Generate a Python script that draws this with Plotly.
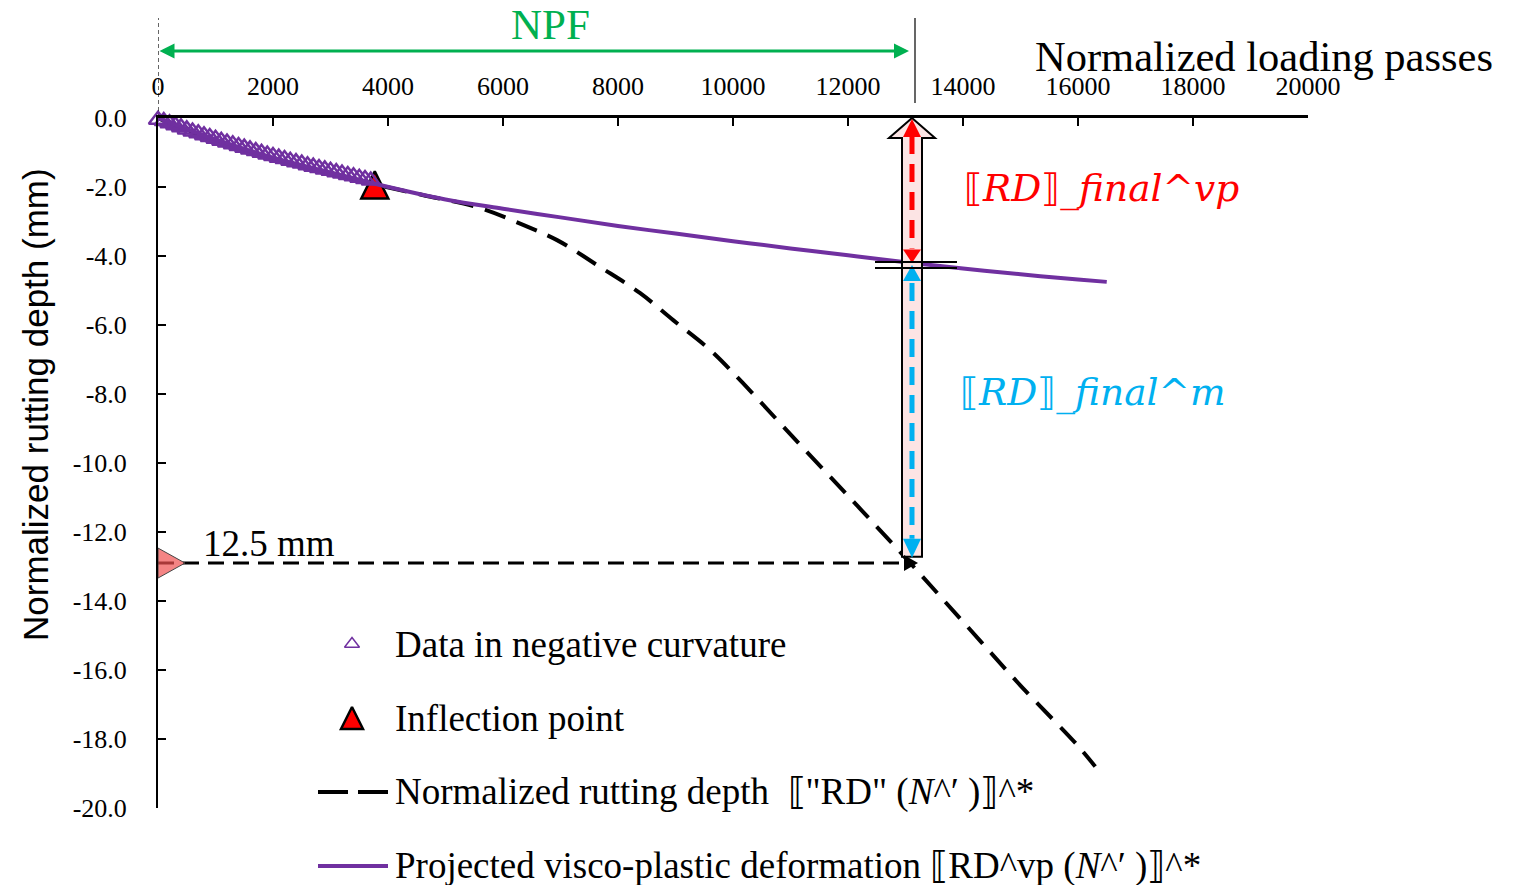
import plotly.graph_objects as go

# ---------------- data ----------------
x_tick_vals = [0, 2000, 4000, 6000, 8000, 10000, 12000, 14000, 16000, 18000, 20000]
x_tick_labels = ["0", "2000", "4000", "6000", "8000", "10000", "12000", "14000", "16000", "18000", "20000"]
y_tick_vals = [0, -2, -4, -6, -8, -10, -12, -14, -16, -18, -20]
y_tick_labels = ["0.0", "-2.0", "-4.0", "-6.0", "-8.0", "-10.0", "-12.0", "-14.0", "-16.0", "-18.0", "-20.0"]

# data in negative curvature (open triangles)
n_data = [0, 100, 200, 300, 400, 500, 600, 700, 800, 900, 1000, 1100, 1200, 1300, 1400,
          1500, 1600, 1700, 1800, 1900, 2000, 2100, 2200, 2300, 2400, 2500, 2600, 2700,
          2800, 2900, 3000, 3100, 3200, 3300, 3400, 3500, 3600, 3700]
rd_data = [-0.05, -0.09, -0.15, -0.21, -0.27, -0.33, -0.39, -0.44, -0.50, -0.55, -0.60,
           -0.66, -0.71, -0.76, -0.81, -0.86, -0.91, -0.96, -1.01, -1.06, -1.10, -1.15,
           -1.19, -1.24, -1.28, -1.32, -1.37, -1.41, -1.45, -1.49, -1.53, -1.57, -1.61,
           -1.65, -1.69, -1.73, -1.77, -1.81]

# inflection point
n_inflection = [3770]
rd_inflection = [-1.94]

# normalized rutting depth curve (dashed)
n_curve = [0, 500, 1000, 1500, 2000, 2500, 3000, 3500, 3860, 4600, 5600, 6350, 6940,
           7690, 8380, 8960, 9600, 10170, 11000, 12000, 13000, 14000, 15000, 16000, 16300]
rd_curve = [0, -0.36, -0.66, -0.94, -1.20, -1.42, -1.63, -1.82, -1.96, -2.23, -2.61, -3.10,
            -3.54, -4.32, -5.07, -5.86, -6.72, -7.68, -9.17, -10.95, -12.75, -14.60, -16.45,
            -18.20, -18.80]

# projected visco-plastic deformation (solid purple)
n_vp = [0, 1000, 2000, 3000, 3860, 5000, 6000, 7000, 8000, 9000, 10000, 11000, 12000,
        13000, 14000, 15000, 16000, 16500]
rd_vp = [0, -0.62, -1.15, -1.58, -1.94, -2.36, -2.63, -2.88, -3.13, -3.35, -3.57, -3.78,
         -3.98, -4.18, -4.36, -4.53, -4.68, -4.75]

# key values
npf = 13113          # number of passes to failure
rd_fail = -12.9      # failure rutting depth level (drawn line)
rd_vp_final = -4.2   # visco-plastic part at failure
rd_block_bottom = -12.72

# ---------------- layout geometry ----------------
BODY = 8                      # default page body margin
W, H = 1522 - BODY, 885 - BODY
ML, MR, MT, MB = 158 - BODY, 214, 118 - BODY, 77
PW, PH = W - ML - MR, H - MT - MB
PLOT_L, PLOT_B = 158, 808     # absolute screen position of plot area
X_RANGE = [0, 20000]
Y_RANGE = [-20, 0]
DX = (X_RANGE[1] - X_RANGE[0]) / PW   # data units per px
DY = (Y_RANGE[1] - Y_RANGE[0]) / PH

PURPLE = "#7030A0"
RED = "#FF0000"
BLUE = "#00B0F0"
GREEN = "#00B050"
SERIF = "Liberation Serif"


def py(px_from_top):
    return (PLOT_B - px_from_top) / PH


def pxp(px_from_left):
    return (px_from_left - PLOT_L) / PW


fig = go.Figure()

fig.add_trace(go.Scatter(x=n_curve, y=rd_curve, mode="lines", line_shape="spline",
                         line=dict(color="black", width=4, dash="22px,12px"),
                         showlegend=False, hoverinfo="skip"))
fig.add_trace(go.Scatter(x=n_inflection, y=rd_inflection, mode="markers", cliponaxis=False,
                         marker=dict(symbol="arrow-down", angle=180, standoff=13.5, size=27,
                                     color=RED, line=dict(color="black", width=2.5)),
                         showlegend=False))
fig.add_trace(go.Scatter(x=n_data, y=rd_data, mode="markers", cliponaxis=False,
                         marker=dict(symbol="triangle-up-open", size=16, color=PURPLE,
                                     line=dict(color=PURPLE, width=2.5)),
                         showlegend=False))
fig.add_trace(go.Scatter(x=n_vp, y=rd_vp, mode="lines", line_shape="spline",
                         line=dict(color=PURPLE, width=4), showlegend=False, hoverinfo="skip"))

# legend symbol markers
leg_x = (352 - PLOT_L) * DX
fig.add_trace(go.Scatter(x=[leg_x], y=[-(644 - 118) * DY], mode="markers", cliponaxis=False,
                         marker=dict(symbol="triangle-up-open", size=13, color=PURPLE,
                                     line=dict(color=PURPLE, width=1.5)), showlegend=False))
fig.add_trace(go.Scatter(x=[leg_x], y=[-(718 - 118) * DY], mode="markers", cliponaxis=False,
                         marker=dict(symbol="arrow-down", angle=180, standoff=11, size=22,
                                     color=RED, line=dict(color="black", width=2.5)),
                         showlegend=False))

shapes = []
# block arrow
hw_head = 23 * DX
hw_shaft = 10 * DX
head_h = 20 * DY
path = (f"M {npf},0 L {npf + hw_head},{-head_h} L {npf + hw_shaft},{-head_h} "
        f"L {npf + hw_shaft},{rd_block_bottom} L {npf - hw_shaft},{rd_block_bottom} "
        f"L {npf - hw_shaft},{-head_h} L {npf - hw_head},{-head_h} Z")
shapes.append(dict(type="path", xref="x", yref="y", path=path,
                   fillcolor="#FCE4E4", line=dict(color="black", width=2)))


def tri(xc, y_tip, y_base, half_w, color):
    p = f"M {xc},{y_tip} L {xc + half_w},{y_base} L {xc - half_w},{y_base} Z"
    return dict(type="path", xref="x", yref="y", path=p, fillcolor=color,
                line=dict(color=color, width=0))


ah_w = 9 * DX
ah_h = 18 * DY
# red double arrow (visco-plastic part)
shapes.append(dict(type="line", xref="x", yref="y", x0=npf, x1=npf,
                   y0=-ah_h, y1=rd_vp_final + ah_h * 0.8,
                   line=dict(color=RED, width=5, dash="18px,10px")))
shapes.append(tri(npf, -1 * DY, -1 * DY - ah_h, ah_w, RED))
shapes.append(tri(npf, rd_vp_final, rd_vp_final + ah_h * 0.75, ah_w, RED))
# blue double arrow (remaining part)
blue_top = rd_vp_final - 2 * DY
shapes.append(dict(type="line", xref="x", yref="y", x0=npf, x1=npf,
                   y0=blue_top - ah_h, y1=rd_block_bottom + ah_h,
                   line=dict(color=BLUE, width=5, dash="18px,10px")))
shapes.append(tri(npf, blue_top, blue_top - ah_h * 0.9, ah_w, BLUE))
shapes.append(tri(npf, rd_block_bottom - 1 * DY, rd_block_bottom + ah_h, ah_w, BLUE))
# '=' marks
for yy in (rd_vp_final + 1 * DY, rd_vp_final - 5 * DY):
    shapes.append(dict(type="line", xref="x", yref="y", x0=npf - 37 * DX, x1=npf + 45 * DX,
                       y0=yy, y1=yy, line=dict(color="black", width=2)))
# horizontal dashed arrow at failure depth
shapes.append(dict(type="line", xref="x", yref="y", x0=0, x1=npf - 8 * DX,
                   y0=rd_fail, y1=rd_fail, line=dict(color="black", width=3, dash="16px,9px")))
shapes.append(dict(type="path", xref="x", yref="y",
                   path=(f"M {npf + 6 * DX},{rd_fail} L {npf - 8 * DX},{rd_fail + 8 * DY} "
                         f"L {npf - 8 * DX},{rd_fail - 8 * DY} Z"),
                   fillcolor="black", line=dict(color="black", width=0)))
# pink marker on the axis
shapes.append(dict(type="path", xref="x", yref="y",
                   path=(f"M 0,{rd_fail + 15 * DY} L {27 * DX},{rd_fail} "
                         f"L 0,{rd_fail - 15 * DY} Z"),
                   fillcolor="rgba(240,80,80,0.7)", line=dict(color="#444", width=1)))
# vertical lines above the plot
shapes.append(dict(type="line", xref="x", yref="paper", x0=0, x1=0, y0=1, y1=py(18),
                   line=dict(color="black", width=1.2, dash="4px,3px")))
shapes.append(dict(type="line", xref="x", yref="paper", x0=npf + 3 * DX, x1=npf + 3 * DX,
                   y0=py(103), y1=py(18), line=dict(color="black", width=1.2)))
# legend line samples
shapes.append(dict(type="line", xref="paper", yref="paper", x0=pxp(318), x1=pxp(388),
                   y0=py(792), y1=py(792), line=dict(color="black", width=4, dash="30px,10px")))
shapes.append(dict(type="line", xref="paper", yref="paper", x0=pxp(318), x1=pxp(388),
                   y0=py(866), y1=py(866), line=dict(color=PURPLE, width=4)))

annotations = []


def label(xp, yp, text, size, color="black", family=SERIF, xanchor="center", **kw):
    annotations.append(dict(xref="paper", yref="paper", x=pxp(xp), y=py(yp), text=text,
                            showarrow=False, xanchor=xanchor, yanchor="middle",
                            font=dict(family=family, size=size, color=color), **kw))


# NPF arrow and label
annotations.append(dict(xref="x", yref="paper", x=npf - 3 * DX, y=py(51), axref="x", ayref="pixel",
                        ax=0, ay=0, showarrow=True, arrowside="end+start", arrowhead=2,
                        arrowsize=1, arrowwidth=3, arrowcolor=GREEN, text=""))
label(550, 25, "NPF", 43, GREEN)
# axis titles
label(1264, 57, "Normalized loading passes", 42.5)
label(35, 405, "Normalized rutting depth (mm)", 35, family="Liberation Sans", textangle=-90)
# 12.5 mm label
label(269, 543, "12.5 mm", 37)
# math labels
label(962, 188, "⟦<i>RD</i>⟧_<i>final</i>^<i>vp</i>", 37.5, RED, family="DejaVu Serif",
      xanchor="left")
label(958, 392, "⟦<i>RD</i>⟧_<i>final</i>^<i>m</i>", 37.5, BLUE, family="DejaVu Serif",
      xanchor="left")
# legend texts
leg_texts = [
    (644, "Data in negative curvature"),
    (718, "Inflection point"),
    (792, "Normalized rutting depth  ⟦\"RD\" (<i>N</i>^′ )⟧^*"),
    (866, "Projected visco-plastic deformation ⟦RD^vp (<i>N</i>^′ )⟧^*"),
]
for yy, t in leg_texts:
    label(393, yy, t, 37, xanchor="left")

fig.update_layout(
    width=W, height=H,
    margin=dict(l=ML, r=MR, t=MT, b=MB, pad=0),
    paper_bgcolor="white", plot_bgcolor="white",
    showlegend=False,
    shapes=shapes,
    annotations=annotations,
    xaxis=dict(range=X_RANGE, side="top", tickvals=x_tick_vals, ticktext=x_tick_labels,
               ticks="inside", ticklen=8, tickwidth=2, tickcolor="black",
               showline=True, linecolor="black", linewidth=2.5, showgrid=False, zeroline=False,
               tickfont=dict(family=SERIF, size=26, color="black"), ticklabelstandoff=10),
    yaxis=dict(range=Y_RANGE, tickvals=y_tick_vals, ticktext=y_tick_labels,
               ticks="inside", ticklen=8, tickwidth=2, tickcolor="black",
               showline=True, linecolor="black", linewidth=2, showgrid=False, zeroline=False,
               tickfont=dict(family=SERIF, size=26, color="black"), ticklabelstandoff=24),
)

fig.write_html("out.html")
